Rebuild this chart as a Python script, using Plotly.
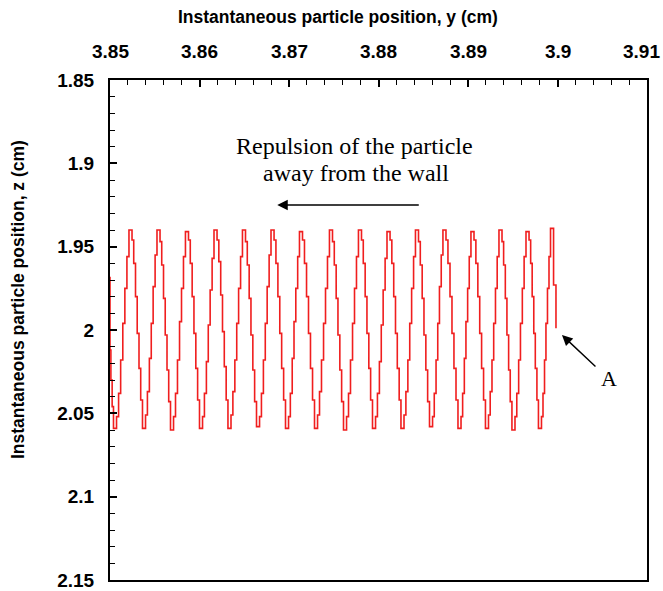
import plotly.graph_objects as go

# Instantaneous particle position y (cm) -- staircase trajectory vertices (plateau starts)
y_pos = [
    3.85000, 3.85000, 3.85010, 3.85024,
    3.85039, 3.85073, 3.85096, 3.85119, 3.85143, 3.85166, 3.85189, 3.85212, 3.85246, 3.85265, 3.85285, 3.85304, 3.85324, 3.85343,
    3.85363, 3.85397, 3.85418, 3.85440, 3.85461, 3.85482, 3.85504, 3.85525, 3.85559, 3.85578, 3.85598, 3.85617, 3.85637, 3.85656,
    3.85676, 3.85710, 3.85732, 3.85754, 3.85777, 3.85799, 3.85821, 3.85843, 3.85877, 3.85897, 3.85918, 3.85938, 3.85959, 3.85979,
    3.86000, 3.86034, 3.86055, 3.86077, 3.86098, 3.86119, 3.86141, 3.86162, 3.86196, 3.86216, 3.86237, 3.86257, 3.86277, 3.86298,
    3.86318, 3.86352, 3.86373, 3.86395, 3.86416, 3.86437, 3.86459, 3.86480, 3.86514, 3.86534, 3.86555, 3.86575, 3.86596, 3.86616,
    3.86637, 3.86671, 3.86692, 3.86714, 3.86735, 3.86756, 3.86778, 3.86799, 3.86833, 3.86854, 3.86876, 3.86897, 3.86918, 3.86940,
    3.86961, 3.86995, 3.87015, 3.87036, 3.87056, 3.87076, 3.87097, 3.87117, 3.87151, 3.87173, 3.87196, 3.87218, 3.87240, 3.87263,
    3.87285, 3.87319, 3.87341, 3.87363, 3.87386, 3.87408, 3.87430, 3.87452, 3.87486, 3.87506, 3.87527, 3.87547, 3.87568, 3.87588,
    3.87609, 3.87643, 3.87665, 3.87687, 3.87710, 3.87732, 3.87754, 3.87776, 3.87810, 3.87830, 3.87851, 3.87871, 3.87892, 3.87912,
    3.87933, 3.87967, 3.87988, 3.88010, 3.88031, 3.88052, 3.88074, 3.88095, 3.88129, 3.88149, 3.88170, 3.88190, 3.88210, 3.88231,
    3.88251, 3.88285, 3.88306, 3.88328, 3.88349, 3.88370, 3.88392, 3.88413, 3.88447, 3.88467, 3.88488, 3.88508, 3.88529, 3.88549,
    3.88570, 3.88604, 3.88623, 3.88643, 3.88662, 3.88681, 3.88701, 3.88720, 3.88754, 3.88776, 3.88799, 3.88821, 3.88843, 3.88866,
    3.88888, 3.88922, 3.88940, 3.88959, 3.88977, 3.88996, 3.89014, 3.89033, 3.89067, 3.89088, 3.89110, 3.89131, 3.89152, 3.89174,
    3.89195, 3.89229, 3.89248, 3.89268, 3.89287, 3.89307, 3.89326, 3.89346, 3.89380, 3.89398, 3.89417, 3.89435, 3.89454, 3.89472,
    3.89491, 3.89525, 3.89545, 3.89566, 3.89586, 3.89607, 3.89627, 3.89648, 3.89682, 3.89700, 3.89717, 3.89735, 3.89752, 3.89770,
    3.89787, 3.89821, 3.89838, 3.89855, 3.89871, 3.89888, 3.89905, 3.89922, 3.89956, 3.89983,
]

# Instantaneous particle position z (cm)
z_pos = [
    1.968, 2.012, 2.030, 2.046,
    2.059, 2.052, 2.038, 2.018, 1.996, 1.975, 1.956, 1.940, 1.946, 1.960, 1.980, 2.002, 2.023, 2.042,
    2.059, 2.051, 2.037, 2.017, 1.996, 1.974, 1.955, 1.940, 1.947, 1.961, 1.981, 2.003, 2.024, 2.043,
    2.060, 2.052, 2.038, 2.018, 1.995, 1.975, 1.956, 1.941, 1.946, 1.960, 1.980, 2.002, 2.023, 2.042,
    2.059, 2.052, 2.038, 2.019, 1.997, 1.976, 1.957, 1.940, 1.946, 1.959, 1.979, 2.001, 2.022, 2.042,
    2.059, 2.051, 2.037, 2.018, 1.996, 1.975, 1.956, 1.940, 1.947, 1.961, 1.981, 2.003, 2.024, 2.043,
    2.058, 2.052, 2.038, 2.018, 1.996, 1.974, 1.955, 1.940, 1.946, 1.960, 1.980, 2.002, 2.023, 2.042,
    2.059, 2.052, 2.038, 2.017, 1.995, 1.975, 1.956, 1.941, 1.946, 1.960, 1.980, 2.002, 2.023, 2.042,
    2.059, 2.051, 2.037, 2.018, 1.996, 1.975, 1.956, 1.940, 1.947, 1.961, 1.981, 2.003, 2.024, 2.043,
    2.060, 2.052, 2.038, 2.018, 1.996, 1.975, 1.956, 1.940, 1.946, 1.960, 1.980, 2.002, 2.023, 2.042,
    2.059, 2.052, 2.038, 2.019, 1.997, 1.976, 1.957, 1.941, 1.946, 1.960, 1.980, 2.002, 2.023, 2.042,
    2.059, 2.051, 2.037, 2.018, 1.996, 1.975, 1.956, 1.940, 1.947, 1.961, 1.981, 2.003, 2.024, 2.043,
    2.058, 2.052, 2.038, 2.018, 1.996, 1.974, 1.955, 1.940, 1.946, 1.960, 1.980, 2.002, 2.023, 2.042,
    2.059, 2.052, 2.038, 2.017, 1.995, 1.975, 1.956, 1.941, 1.946, 1.960, 1.980, 2.002, 2.023, 2.042,
    2.059, 2.051, 2.037, 2.018, 1.996, 1.975, 1.956, 1.940, 1.947, 1.961, 1.981, 2.003, 2.024, 2.043,
    2.060, 2.052, 2.038, 2.018, 1.996, 1.975, 1.956, 1.941, 1.946, 1.960, 1.980, 2.002, 2.023, 2.042,
    2.059, 2.052, 2.038, 2.018, 1.996, 1.975, 1.956, 1.939, 1.973, 1.999,
]

x_ticks = [3.85, 3.86, 3.87, 3.88, 3.89, 3.90, 3.91]
x_ticklabels = ["3.85", "3.86", "3.87", "3.88", "3.89", "3.9", "3.91"]
z_ticks = [1.85, 1.90, 1.95, 2.00, 2.05, 2.10, 2.15]
z_ticklabels = ["1.85", "1.9", "1.95", "2", "2.05", "2.1", "2.15"]

x_title = "Instantaneous particle position, y (cm)"
z_title = "Instantaneous particle position, z (cm)"
note_lines = ["Repulsion of the particle", "away from the wall"]
label_a = "A"

SANS = "Liberation Sans, Arial, sans-serif"
SERIF = "Liberation Serif, Times New Roman, serif"

fig = go.Figure()
fig.add_trace(go.Scatter(
    x=y_pos, y=z_pos, mode="lines",
    line=dict(color="rgb(240,30,30)", width=1.6, shape="hv"),
    showlegend=False, hoverinfo="skip",
))

tickfont = dict(family=SANS, size=19, color="black", weight="bold")

fig.update_xaxes(
    side="top", range=[3.85, 3.91], automargin=False,
    tickmode="array", tickvals=x_ticks, showticklabels=False,
    ticks="inside", ticklen=7, tickwidth=1.5, tickcolor="black",
    minor=dict(ticks="inside", tick0=3.85, dtick=0.002, ticklen=5, tickwidth=1, tickcolor="black"),
    showline=True, linecolor="black", linewidth=2, mirror=True,
    showgrid=False, zeroline=False,
)
fig.update_yaxes(
    range=[2.15, 1.85], automargin=False,
    tickmode="array", tickvals=z_ticks, ticktext=z_ticklabels,
    ticks="inside", ticklen=7, tickwidth=1.5, tickcolor="black",
    minor=dict(ticks="inside", tick0=1.85, dtick=0.01, ticklen=5, tickwidth=1, tickcolor="black"),
    showline=True, linecolor="black", linewidth=2, mirror=True,
    showgrid=False, zeroline=False, tickfont=tickfont, ticklabelstandoff=10,
    ticklabeloverflow="allow",
)

annotations = []
# x tick labels on the top axis (last one kept inside the page edge)
for i, (tv, tt) in enumerate(zip(x_ticks, x_ticklabels)):
    last = i == len(x_ticks) - 1
    annotations.append(dict(
        text=tt, xref="x", yref="paper", x=tv, y=1 + (80 - 52) / 500,
        xanchor="right" if last else "center", xshift=15 if last else 0,
        yanchor="middle", showarrow=False, font=tickfont,
    ))

annotations += [
    dict(text=x_title, xref="paper", yref="paper", x=(338 - 110) / 537, y=1 + (80 - 17) / 500,
         xanchor="center", yanchor="middle", showarrow=False,
         font=dict(family=SANS, size=17.5, color="black", weight="bold")),
    dict(text=z_title, xref="paper", yref="paper", x=(18 - 110) / 537, y=(580 - 300) / 500,
         xanchor="center", yanchor="middle", showarrow=False, textangle=-90,
         font=dict(family=SANS, size=17.5, color="black", weight="bold")),
    dict(text=note_lines[0], xref="x", yref="y", x=3.87737, y=1.8893,
         xanchor="center", yanchor="middle", showarrow=False,
         font=dict(family=SERIF, size=24, color="black")),
    dict(text=note_lines[1], xref="x", yref="y", x=3.87743, y=1.9058,
         xanchor="center", yanchor="middle", showarrow=False,
         font=dict(family=SERIF, size=24, color="black")),
    dict(text="", xref="x", yref="y", x=3.86869, y=1.9250, ax=143, ay=0,
         showarrow=True, arrowhead=2, arrowsize=1.5, arrowwidth=1.4, arrowcolor="black", standoff=0),
    dict(text="", xref="x", yref="y", x=3.90050, y=2.0030, ax=35, ay=33,
         showarrow=True, arrowhead=2, arrowsize=1.5, arrowwidth=1.4, arrowcolor="black", standoff=0),
    dict(text=label_a, xref="x", yref="y", x=3.90575, y=2.0290,
         xanchor="center", yanchor="middle", showarrow=False,
         font=dict(family=SERIF, size=22, color="black")),
]

fig.update_layout(
    width=663, height=591,
    margin=dict(l=110, r=16, t=80, b=11, pad=0),
    paper_bgcolor="white", plot_bgcolor="white",
    annotations=annotations,
)

fig.write_html("out.html")
